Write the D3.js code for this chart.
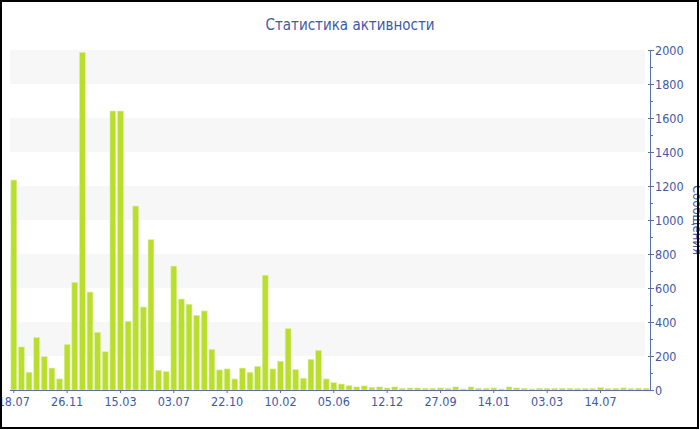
<!DOCTYPE html>
<html>
<head>
<meta charset="utf-8">
<script src="https://cdn.jsdelivr.net/npm/d3@7"></script>
<style>
  body { margin: 0; background: #fff; }
  svg { display: block; font-family: "DejaVu Sans Condensed", "DejaVu Sans", sans-serif; }
</style>
</head>
<body>
<svg width="700" height="430"></svg>
<script>
// messages per period
var counts = [1235, 253, 104, 308, 196, 129, 65, 267, 633, 1986, 576, 339, 225, 1641, 1641, 404,
  1082, 488, 884, 116, 108, 729, 535, 504, 439, 465, 239, 118, 124, 65, 129, 104, 139, 675, 124,
  169, 361, 120, 69, 180, 233, 65, 43, 35, 25, 18, 24, 16, 18, 12, 18, 10, 12, 12, 10, 10, 12,
  10, 18, 6, 18, 10, 10, 12, 6, 18, 12, 10, 6, 10, 10, 10, 10, 10, 8, 8, 8, 14, 8, 10, 12, 8, 10, 10];

// one label every 7 bars
var tickLabels = ["18.07", "26.11", "15.03", "03.07", "22.10", "10.02", "05.06", "12.12",
  "27.09", "14.01", "03.03", "14.07"];
var labelStep = 7;

var yMajor = [0, 200, 400, 600, 800, 1000, 1200, 1400, 1600, 1800, 2000];
var yMinor = [100, 300, 500, 700, 900, 1100, 1300, 1500, 1700, 1900];
var bands = [[200, 400], [600, 800], [1000, 1200], [1400, 1600], [1800, 2000]];

var blue = "#3f58a4",
    axisColor = "#5a6eae";

var svg = d3.select("svg"),
    plotLeft = 10, plotRight = 650, plotTop = 50, plotBottom = 390;

var x = d3.scaleBand()
    .domain(d3.range(counts.length))
    .range([plotLeft, plotRight])
    .paddingInner(0.24)
    .paddingOuter(0.12);

var y = d3.scaleLinear()
    .domain([0, 2000])
    .range([plotBottom, plotTop]);

// alternating grey bands
svg.append("g").selectAll("rect")
    .data(bands)
    .enter().append("rect")
      .attr("x", plotLeft)
      .attr("width", 645 - plotLeft)
      .attr("y", function(d) { return y(d[1]); })
      .attr("height", function(d) { return y(d[0]) - y(d[1]); })
      .attr("fill", "#f7f7f7");

// bars
svg.append("g").selectAll("rect")
    .data(counts)
    .enter().append("rect")
      .attr("x", function(d, i) { return x(i); })
      .attr("width", x.bandwidth())
      .attr("y", function(d) { return y(d); })
      .attr("height", function(d) { return plotBottom - y(d); })
      .attr("fill", "#b9de2c")
      .attr("stroke", "#dcef9c")
      .attr("stroke-width", 0.6);

// x axis
var xAxis = d3.axisBottom(x)
    .tickValues(d3.range(0, counts.length, labelStep).filter(function(i) { return i / labelStep < tickLabels.length; }))
    .tickFormat(function(i) { return tickLabels[i / labelStep]; })
    .tickSize(3)
    .tickPadding(4)
    .tickSizeOuter(0);

var gx = svg.append("g")
    .attr("transform", "translate(0," + plotBottom + ")")
    .call(xAxis)
    .attr("font-family", null)
    .attr("font-size", null);
gx.select(".domain").attr("stroke", axisColor).attr("d", "M" + plotLeft + ",0.5H" + plotRight);
gx.selectAll(".tick line").attr("stroke", axisColor);
gx.selectAll("text").attr("fill", blue).style("font-size", "12.5px");

// y axis on the right
var yAxis = d3.axisRight(y)
    .tickValues(yMajor)
    .tickFormat(d3.format("d"))
    .tickSize(4)
    .tickPadding(1)
    .tickSizeOuter(0);

var gy = svg.append("g")
    .attr("transform", "translate(" + plotRight + ",0)")
    .call(yAxis)
    .attr("font-family", null)
    .attr("font-size", null);
gy.select(".domain").attr("stroke", axisColor);
gy.selectAll(".tick line").attr("stroke", axisColor).attr("x1", -2);
gy.selectAll("text").attr("fill", blue).style("font-size", "12.5px");

gy.selectAll(".minor")
    .data(yMinor)
    .enter().append("line")
      .attr("class", "minor")
      .attr("x1", 0).attr("x2", 3)
      .attr("y1", function(d) { return y(d) + 0.5; })
      .attr("y2", function(d) { return y(d) + 0.5; })
      .attr("stroke", axisColor);

// axis title, rotated and partly cut by the border
svg.append("text")
    .attr("transform", "translate(693," + ((plotTop + plotBottom) / 2) + ") rotate(90)")
    .attr("text-anchor", "middle")
    .attr("fill", blue)
    .style("font-size", "13px")
    .text("Сообщения");

// chart title
svg.append("text")
    .attr("x", 350)
    .attr("y", 30)
    .attr("text-anchor", "middle")
    .attr("fill", blue)
    .style("font-size", "15px")
    .text("Статистика активности");

// outer border
svg.append("rect")
    .attr("x", 1).attr("y", 1)
    .attr("width", 697).attr("height", 427)
    .attr("fill", "none")
    .attr("stroke", "#000")
    .attr("stroke-width", 2);
</script>
</body>
</html>
